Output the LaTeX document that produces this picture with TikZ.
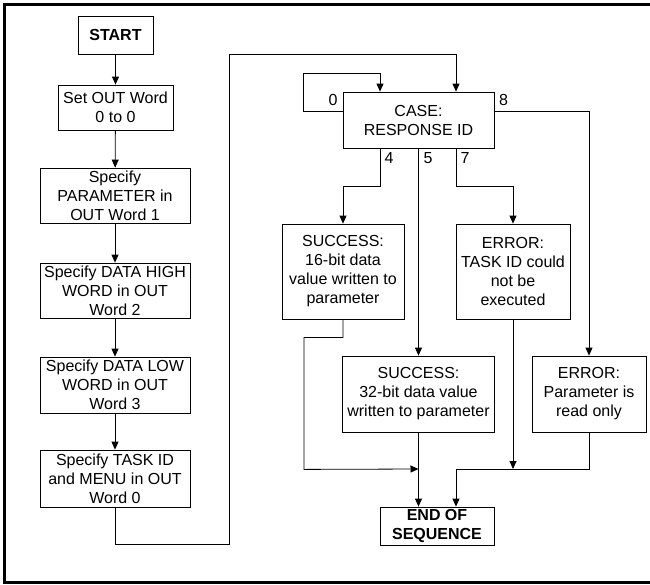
\documentclass[tikz,border=0pt]{standalone}
\usepackage{fontspec}
\setmainfont{Liberation Sans}
\usetikzlibrary{arrows.meta,calc}
\begin{document}
\begin{tikzpicture}[x=1pt,y=-1pt,
  txt/.style={font=\fontsize{16}{19}\selectfont},
  box/.style={draw, line width=0.8pt, align=center, inner sep=0pt, txt},
  boldbox/.style={box, font=\fontsize{16}{19}\selectfont\bfseries},
  ln/.style={line width=0.8pt},
  arr/.style={line width=0.8pt, -{Triangle[length=8pt,width=7pt]}},
  lbl/.style={txt, inner sep=0pt},
  frame/.style={line width=2.7pt}]
\useasboundingbox (0,0) rectangle (650,584);
% outer frame (right side cut off)
\draw[frame] (652,4.5) -- (4.5,4.5) -- (4.5,582.5) -- (652,582.5);

% left column
\node[boldbox, minimum width=75pt, minimum height=38pt] (start) at (115.5,35) {START};
\node[box, minimum width=115pt, minimum height=45pt] (set) at (115.5,107.5) {Set OUT Word\\0 to 0};
\node[box, minimum width=150pt, minimum height=55pt] (param) at (115,195.5) {Specify\\PARAMETER in\\OUT Word 1};
\node[box, minimum width=150pt, minimum height=55pt] (high) at (115,290.5) {Specify DATA HIGH\\WORD in OUT\\Word 2};
\node[box, minimum width=150pt, minimum height=56pt] (low) at (115,385) {Specify DATA LOW\\WORD in OUT\\Word 3};
\node[box, minimum width=150pt, minimum height=57pt] (task) at (115,478.5) {Specify TASK ID\\and MENU in OUT\\Word 0};

% right part
\node[box, minimum width=151pt, minimum height=56pt] (case) at (418.5,120) {CASE:\\RESPONSE ID};
\node[box, minimum width=122pt, minimum height=95pt] (s16) at (343,271.5) {SUCCESS:\\16-bit data\\value written to\\parameter};
\node[box, minimum width=114pt, minimum height=95pt] (err7) at (513,271.5) {ERROR:\\TASK ID could\\not be\\executed};
\node[box, minimum width=152pt, minimum height=76pt] (s32) at (418.5,394) {SUCCESS:\\32-bit data value\\written to parameter};
\node[box, minimum width=114pt, minimum height=76pt] (err8) at (589,394) {ERROR:\\Parameter is\\read only};
\node[boldbox, minimum width=114pt, minimum height=38pt] (end) at (437,526) {END OF\\SEQUENCE};

% labels
\node[lbl] (l0) at (333,100) {0};
\node[lbl] (l8) at (503.5,100) {8};
\node[lbl] (l4) at (389,158) {4};
\node[lbl] (l5) at (428,158) {5};
\node[lbl] (l7) at (465,158) {7};

% coordinates
\coordinate (up) at (229,544);
\coordinate (topc) at (229,54);
\coordinate (j1) at (418.5,469);

% left column arrows
\draw[arr] (start) -- (set);
\draw[arr] (set) -- (param);
\draw[arr] (param) -- (high);
\draw[arr] (high) -- (low);
\draw[arr] (low) -- (task);
\draw[arr] (task.south) |- (up) -- (topc) -| ($(case.north)+(37.5,0)$);

% loop 0
\draw[arr] ($(case.west)+(0,-9)$) -- ++(-39,0) -- ++(0,-38) -| ($(case.north)+(-38.5,0)$);
% 8
\draw[arr] ($(case.east)+(0,-9)$) -| (err8.north);
% 4
\draw[arr] ($(case.south)+(-38.5,0)$) -- ++(0,38) -| (s16.north);
% 5
\draw[arr] (case.south) -- (s32.north);
% 7
\draw[arr] ($(case.south)+(37.5,0)$) -- ++(0,38) -| (err7.north);

% towards end
\draw[arr] (s16.south) -- ++(0,18) -- ++(-39,0) -- ++(0,132) -- (j1);
\draw[arr] (s32.south) -- (s32.south |- end.north);
\draw[arr] (err7.south) -- (err7.south |- j1);
\draw[arr] (err8.south) -- ++(0,37) -| ($(end.north)+(19,0)$);
\end{tikzpicture}
\end{document}
